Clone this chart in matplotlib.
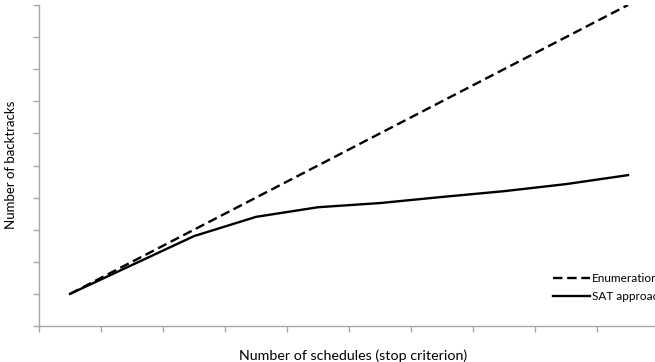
import matplotlib
matplotlib.use("Agg")
import matplotlib.pyplot as plt
from matplotlib.lines import Line2D

plt.rcParams['font.family'] = ['Lato', 'DejaVu Sans']

categories = list(range(1, 11))
enumeration = [1, 2, 3, 4, 5, 6, 7, 8, 9, 10]
sat_approach = [1.0, 1.9, 2.8, 3.4, 3.7, 3.83, 4.02, 4.2, 4.42, 4.7]

W, H = 655, 362
fig = plt.figure(figsize=(W / 100, H / 100), dpi=100)
ax = fig.add_axes([39 / W, (H - 326) / H, 620 / W, 321 / H])

x = [c - 0.5 for c in categories]
dash = (0, (4, 2))
ax.plot(x, enumeration, color='black', lw=1.7, ls=dash, dash_capstyle='butt', label='Enumeration')
ax.plot(x, sat_approach, color='black', lw=1.7, label='SAT approach')

ax.set_xlim(0, 10)
ax.set_ylim(0, 10)
ax.set_xticks(range(0, 11))
ax.set_yticks(range(0, 11))
ax.set_xticklabels([])
ax.set_yticklabels([])
for s in ['top', 'right']:
    ax.spines[s].set_visible(False)
for s in ['left', 'bottom']:
    ax.spines[s].set_color('#a6a6a6')
    ax.spines[s].set_linewidth(1.0)
ax.tick_params(axis='both', direction='out', length=4, width=1.0, color='#a6a6a6')

ax.set_ylabel('Number of backtracks', fontsize=9.5)
ax.set_xlabel('Number of schedules (stop criterion)', fontsize=10.3)
ax.xaxis.set_label_coords((353 - 39) / 620, -(349 - 326) / 321)
ax.yaxis.set_label_coords(-(39 - 17) / 620, (326 - 165) / 321)

handles = [Line2D([], [], color='black', lw=1.7, ls=dash),
           Line2D([], [], color='black', lw=1.7)]
fig.legend(handles, ['Enumeration', 'SAT approach'], loc='center left',
           bbox_to_anchor=(553 / W, 1 - 287.5 / H), frameon=False, fontsize=8.5,
           handlelength=3.1, handletextpad=0.2, labelspacing=0.6,
           borderaxespad=0, borderpad=0)

fig.savefig('out.png', dpi=100)
